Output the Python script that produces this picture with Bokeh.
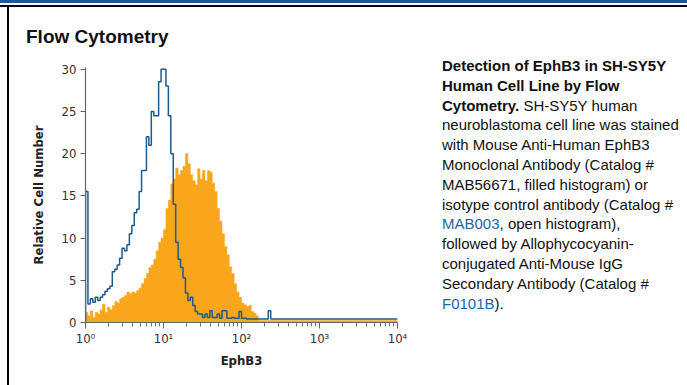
import numpy as np
from bokeh.plotting import figure
from bokeh.models import (Range1d, Div, FixedTicker, CustomJSTickFormatter,
                          GlobalInlineStyleSheet, InlineStyleSheet)
from bokeh.layouts import row, column
from bokeh.embed import file_html
from bokeh.resources import INLINE

# ---------------- data ----------------
BINS_PER_DECADE = 32          # histogram channels per decade of EphB3 intensity
DECADES = 4                   # 10^0 .. 10^4

# isotype control (open histogram, blue line), 128 channels
isotype_counts = [
    15.5, 2.2, 2.8, 2.4, 3.0, 2.6, 3.0, 3.3, 3.7, 4.0, 4.3, 6.0, 6.3, 6.8, 7.6, 8.8,
    8.5, 9.2, 10.5, 11.5, 13.0, 13.4, 15.5, 18.0, 18.0, 22.0, 21.0, 25.0, 24.5, 24.5, 28.5, 30.0,
    30.0, 28.0, 24.5, 20.0, 14.0, 9.5, 7.5, 6.5, 5.3, 3.5, 2.6, 3.0, 2.0, 1.3, 1.0, 1.0,
    0.6, 1.0, 0.6, 1.4, 0.6, 0.6, 1.0, 0.5, 1.4, 1.4, 0.5, 0.5, 0.6, 0.5, 0.5, 1.3,
    0.5, 0.5, 0.4, 0.4, 0.4, 0.4, 0.4, 0.4, 0.4, 0.4, 0.4, 1.4, 0.4, 0.4, 0.4, 0.4,
    0.4, 0.4, 0.4, 0.4, 0.4, 0.4, 0.4, 0.4, 0.4, 0.4, 0.4, 0.4, 0.4, 0.4, 0.4, 0.4,
    0.4, 0.4, 0.4, 0.4, 0.4, 0.4, 0.4, 0.4, 0.4, 0.4, 0.4, 0.4, 0.4, 0.4, 0.4, 0.4,
    0.4, 0.4, 0.4, 0.4, 0.4, 0.4, 0.4, 0.4, 0.4, 0.4, 0.4, 0.4, 0.4, 0.4, 0.4, 0.4,
]

# EphB3 antibody (filled histogram, orange), 128 channels
ephb3_counts = [
    1.2, 0.8, 1.4, 0.6, 1.2, 1.0, 1.5, 2.2, 1.2, 1.8, 1.5, 2.0, 2.5, 2.3, 2.8, 3.0,
    3.2, 3.6, 3.4, 3.6, 3.5, 3.8, 4.1, 4.6, 5.2, 5.8, 6.5, 6.8, 7.5, 8.5, 9.5, 10.0,
    11.0, 13.5, 14.5, 16.4, 17.0, 18.3, 17.5, 18.0, 18.5, 20.0, 18.8, 17.5, 16.8, 16.3, 18.2, 17.0,
    18.0, 16.8, 18.0, 17.8, 16.5, 15.5, 13.5, 12.0, 10.5, 9.0, 8.0, 6.6, 5.8, 4.6, 3.6, 3.0,
    2.3, 2.1, 1.9, 2.0, 1.3, 1.1, 0.8, 0.25, 0.25, 0.25, 0.25, 0.25, 0.25, 0.25, 0.25, 0.25,
    0.25, 0.25, 0.25, 0.25, 0.25, 0.25, 0.25, 0.25, 0.25, 0.25, 0.25, 0.25, 0.25, 0.25, 0.25, 0.25,
    0.25, 0.25, 0.25, 0.25, 0.25, 0.25, 0.25, 0.25, 0.25, 0.25, 0.25, 0.25, 0.25, 0.25, 0.25, 0.25,
    0.25, 0.25, 0.25, 0.25, 0.25, 0.25, 0.25, 0.25, 0.25, 0.25, 0.25, 0.25, 0.25, 0.25, 0.25, 0.25,
]

y_ticks = [0, 5, 10, 15, 20, 25, 30]
x_ticks = [1, 10, 100, 1000, 10000]
x_tick_labels = ["10\u2070", "10\u00b9", "10\u00b2", "10\u00b3", "10\u2074"]

title_text = "Flow Cytometry"
x_label = "EphB3"
y_label = "Relative Cell Number"
link_color = "#1e64aa"
caption_lines = [
    "<b>Detection of EphB3 in SH-SY5Y</b>",
    "<b>Human Cell Line by Flow</b>",
    "<b>Cytometry.</b> SH-SY5Y human",
    "neuroblastoma cell line was stained",
    "with Mouse Anti-Human EphB3",
    "Monoclonal Antibody (Catalog #",
    "MAB56671, filled histogram) or",
    "isotype control antibody (Catalog #",
    f"<span style='color:{link_color}'>MAB003</span>, open histogram),",
    "followed by Allophycocyanin-",
    "conjugated Anti-Mouse IgG",
    "Secondary Antibody (Catalog #",
    f"<span style='color:{link_color}'>F0101B</span>).",
]

ORANGE = "#F9A61C"
BLUE = "#1f5a8e"
AXIS_FONT = "'DejaVu Sans Condensed', 'Liberation Sans Narrow', Roboto, sans-serif"

# ---------------- geometry of histogram steps ----------------
n_bins = len(isotype_counts)
edges = 10.0 ** (np.arange(n_bins + 1) / BINS_PER_DECADE)
step_x = np.repeat(edges, 2)[1:-1]


def step_y(vals):
    return np.repeat(np.asarray(vals, dtype=float), 2)


fill_x = np.concatenate([[edges[0]], step_x, [edges[-1]]])
fill_y = np.concatenate([[0.0], step_y(ephb3_counts), [0.0]])
line_x = np.concatenate([[edges[0]], step_x])
line_y = np.concatenate([[0.0], step_y(isotype_counts)])

NO_SCROLL = ":host, :host * { overflow: hidden !important; scrollbar-width: none !important; } " \
            "::-webkit-scrollbar { display: none !important; width: 0 !important; height: 0 !important; }"

# ---------------- figure ----------------
p = figure(width=421, height=335, x_axis_type="log",
           x_range=Range1d(1, 10 ** DECADES), y_range=Range1d(0, 30.2),
           output_backend="svg", toolbar_location=None,
           min_border_left=76, min_border_right=33,
           min_border_top=17, min_border_bottom=63)
p.outline_line_color = None
p.grid.visible = False
p.background_fill_color = "white"
p.border_fill_color = "white"

p.patch(fill_x, fill_y, fill_color=ORANGE, line_color=ORANGE, line_width=0.5)
p.line(line_x, line_y, line_color=BLUE, line_width=1.5)

minor = [m * 10 ** k for k in range(DECADES) for m in range(2, 10)]
p.xaxis.ticker = FixedTicker(ticks=x_ticks, minor_ticks=minor)
p.xaxis.formatter = CustomJSTickFormatter(
    args=dict(labels=x_tick_labels),
    code="return labels[Math.round(Math.log10(tick))];")
p.yaxis.ticker = FixedTicker(ticks=y_ticks, minor_ticks=[])

for ax in (p.xaxis[0], p.yaxis[0]):
    ax.axis_line_color = "#666666"
    ax.axis_line_width = 1.2
    ax.major_tick_line_color = "#666666"
    ax.minor_tick_line_color = "#777777"
    ax.major_tick_in = 0
    ax.minor_tick_in = 0
    ax.major_label_text_font = AXIS_FONT
    ax.major_label_text_font_size = "13px"
    ax.major_label_text_color = "#333333"
    ax.axis_label_text_font = AXIS_FONT
    ax.axis_label_text_font_style = "bold"
    ax.axis_label_text_font_size = "13px"
    ax.axis_label_text_color = "#222222"

p.xaxis.axis_label = x_label
p.xaxis.major_tick_out = 6
p.xaxis.minor_tick_out = 4
p.xaxis.major_label_standoff = 2
p.xaxis.axis_label_standoff = 4

p.yaxis.axis_label = y_label
p.yaxis.major_tick_out = 5
p.yaxis.major_label_standoff = 4
p.yaxis.axis_label_standoff = 13


# ---------------- text blocks & frame rules ----------------
def box(text, w, h, bg=None):
    styles = {"overflow": "hidden"}
    if bg:
        styles["background-color"] = bg
    return Div(text=text, width=w, height=h, margin=0, styles=styles,
               stylesheets=[InlineStyleSheet(css=NO_SCROLL)])


title_div = box(
    f"<div style=\"padding:20px 0 0 17px;font-family:'Liberation Sans',Arial,sans-serif;"
    f"font-weight:bold;font-size:19px;line-height:20px;color:#111;white-space:nowrap\">"
    f"{title_text}</div>", 678, 43)

caption_div = box(
    f"<div style=\"padding:6px 0 0 12px;font-family:'Liberation Sans',Arial,sans-serif;"
    f"font-size:15px;line-height:19.8px;color:#111;white-space:nowrap\">"
    + "<br>".join(caption_lines) + "</div>", 257, 335)

blue_rule = box("", 687, 3, "#1d5796")
gap_rule = box("", 687, 2, "#ffffff")
black_rule = box("", 687, 2, "#000000")
left_gap = box("", 7, 378, "#ffffff")
left_rule = box("", 2, 378, "#000000")

content = column(title_div, row(p, caption_div, spacing=0), spacing=0)
body = row(left_gap, left_rule, content, spacing=0)
root = column(blue_rule, gap_rule, black_rule, body, spacing=0)
for lay in (content, body, root):
    lay.stylesheets = [InlineStyleSheet(css=NO_SCROLL)]
root.stylesheets = root.stylesheets + [GlobalInlineStyleSheet(
    css="html, body { overflow: hidden !important; scrollbar-width: none !important; } "
        "::-webkit-scrollbar { display: none !important; width: 0 !important; }")]

open("out.html", "w").write(file_html(root, INLINE))
